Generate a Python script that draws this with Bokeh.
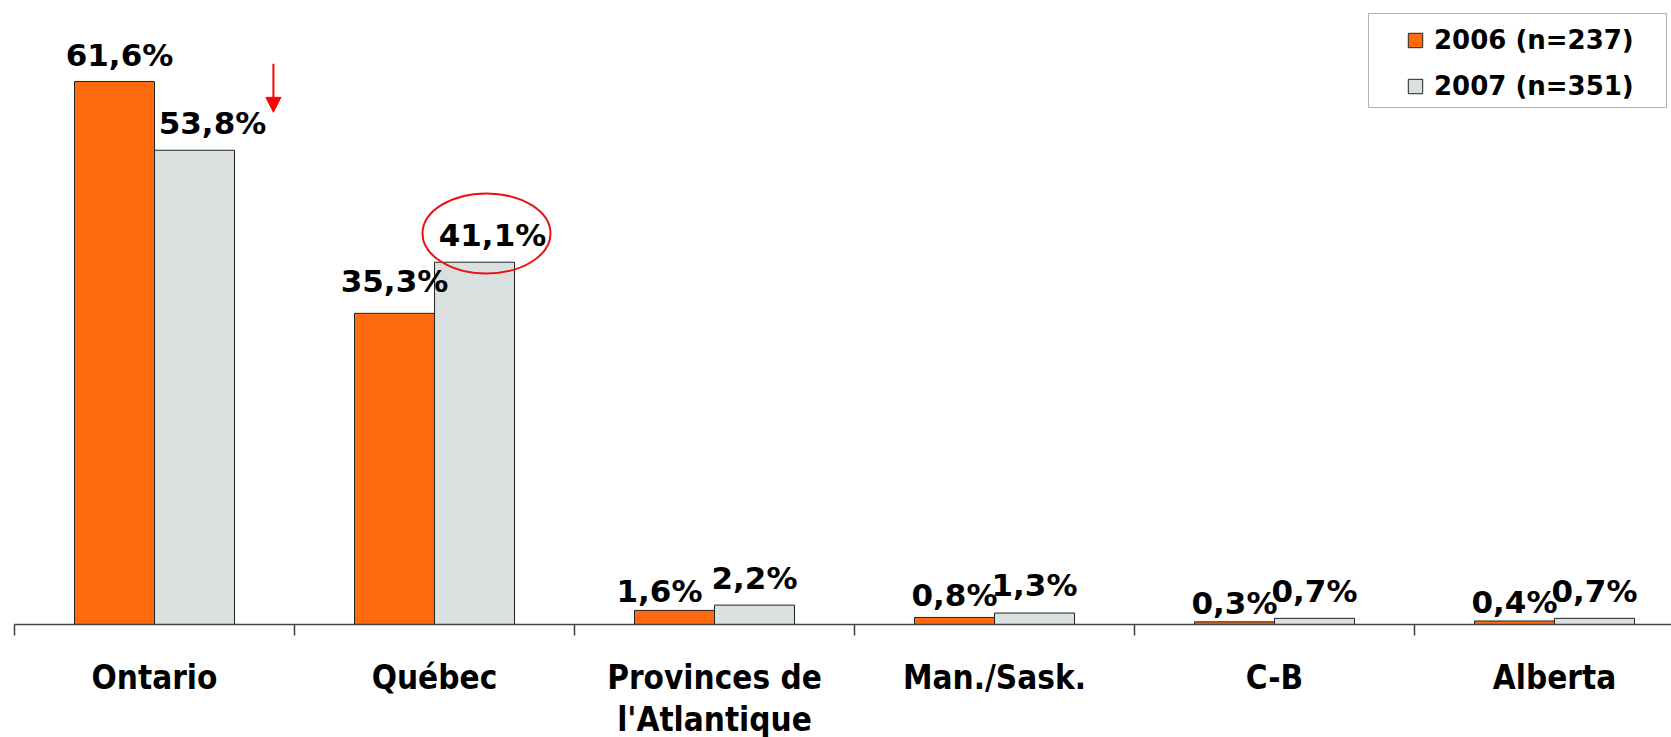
from bokeh.plotting import figure
from bokeh.models import (ColumnDataSource, Range1d, LinearAxis, FixedTicker, Legend,
                          LegendItem, BoxAnnotation, Arrow, NormalHead)
from bokeh.core.properties import value
from bokeh.embed import file_html
from bokeh.resources import INLINE

# ---------------- data ----------------
categories = ["Ontario", "Québec", "Provinces de\nl'Atlantique", "Man./Sask.", "C-B", "Alberta"]
series_names = ["2006 (n=237)", "2007 (n=351)"]
values_2006 = [61.6, 35.3, 1.6, 0.8, 0.3, 0.4]
values_2007 = [53.8, 41.1, 2.2, 1.3, 0.7, 0.7]

# ---------------- style ----------------
ORANGE = "#FF6A0F"
GREY = "#D9E0DF"
EDGE = "#222222"
AXIS = "#404040"
RED = "#EE1111"
LABEL_FONT = "DejaVu Sans"
CAT_FONT = "DejaVu Sans Condensed"

CANVAS_H = 737
FRAME_W, FRAME_H = 1657, 616
FRAME_LEFT, FRAME_TOP = 14, 8
CAT_PX = 280.0          # pixels per category
PX_PER_PCT = 8.815      # pixels per percentage point
BAR_W = 2.0 / 7.0       # each bar, in category units (gap 150%)

# per-label nudges (pixels) to mimic the original label placement
xoff_2006 = [5, 0, -15, 0, 0, 0]
yoff_2006 = [-26, -32, -19, -22, -19, -19]
xoff_2007 = [18, 18, 0, 0, 0, 0]
yoff_2007 = [-27, -27, -27, -28, -27, -27]


def fmt(v):
    return f"{v:.1f}".replace(".", ",") + "%"


n = len(categories)
idx = list(range(n))

x_range = Range1d(-0.5, -0.5 + FRAME_W / CAT_PX)
y_range = Range1d(0, FRAME_H / PX_PER_PCT)

p = figure(frame_width=FRAME_W, frame_height=FRAME_H, x_range=x_range, y_range=y_range,
           output_backend="svg", toolbar_location=None,
           x_axis_location=None, y_axis_location=None,
           min_border_left=FRAME_LEFT, min_border_right=0, min_border_top=FRAME_TOP,
           min_border_bottom=CANVAS_H - FRAME_TOP - FRAME_H,
           outline_line_color=None, background_fill_color="white", border_fill_color="white")
p.grid.visible = False

src6 = ColumnDataSource(dict(x=[i - BAR_W / 2 for i in idx], top=values_2006,
                             label=[fmt(v) for v in values_2006], xo=xoff_2006, yo=yoff_2006))
src7 = ColumnDataSource(dict(x=[i + BAR_W / 2 for i in idx], top=values_2007,
                             label=[fmt(v) for v in values_2007], xo=xoff_2007, yo=yoff_2007))

r6 = p.vbar(x="x", top="top", bottom=0, width=BAR_W, source=src6,
            fill_color=ORANGE, line_color=EDGE, line_width=1)
r7 = p.vbar(x="x", top="top", bottom=0, width=BAR_W, source=src7,
            fill_color=GREY, line_color=EDGE, line_width=1)

for src in (src6, src7):
    p.text(x="x", y="top", text="label", x_offset="xo", y_offset="yo", source=src,
           text_font=value(LABEL_FONT), text_font_style="bold", text_font_size="31px",
           text_align="center", text_baseline="alphabetic", text_color="black")

# category axis: labels on (hidden) major ticks, boundary marks as minor ticks
xaxis = LinearAxis(ticker=FixedTicker(ticks=idx, minor_ticks=[i - 0.5 for i in range(n + 1)]),
                   major_label_overrides={i: c for i, c in zip(idx, categories)},
                   axis_line_color=AXIS, axis_line_width=1.5,
                   major_tick_line_color=None, major_tick_in=0, major_tick_out=11,
                   minor_tick_line_color=AXIS, minor_tick_line_width=1.5,
                   minor_tick_in=0, minor_tick_out=11,
                   major_label_standoff=22,
                   major_label_text_font=CAT_FONT, major_label_text_font_style="bold",
                   major_label_text_font_size="33px", major_label_text_color="black",
                   major_label_text_line_height=1.08)
p.add_layout(xaxis, "below")


def dx(page_x):
    return -0.5 + (page_x - FRAME_LEFT) / CAT_PX


def dy(page_y):
    return (FRAME_TOP + FRAME_H - page_y) / PX_PER_PCT


legend = Legend(items=[LegendItem(label=series_names[0], renderers=[r6]),
                       LegendItem(label=series_names[1], renderers=[r7])],
                location=(1392, 523), padding=0, spacing=16,
                glyph_height=18, glyph_width=18, label_height=30, label_standoff=10,
                label_text_font=LABEL_FONT, label_text_font_size="26px",
                label_text_font_style="bold", label_text_color="black",
                border_line_color=None, background_fill_alpha=0)
p.add_layout(legend)

p.add_layout(BoxAnnotation(left=dx(1368), right=dx(1666), top=dy(13), bottom=dy(107),
                           fill_color=None, line_color="black", line_width=1))

# red arrow above Ontario 2007 bar
ax_x = idx[0] + BAR_W + 0.139
p.add_layout(Arrow(end=NormalHead(size=15, fill_color="red", line_color="red"),
                   x_start=ax_x, y_start=values_2007[0] + 9.8,
                   x_end=ax_x, y_end=values_2007[0] + 4.3,
                   line_color="red", line_width=2))

# red ellipse around Québec 2007 label
p.ellipse(x=idx[1] + BAR_W / 2 + 12 / CAT_PX, y=values_2007[1] + 3.26,
          width=128, height=80, width_units="screen", height_units="screen",
          fill_color=None, line_color=RED, line_width=2)

open("out.html", "w").write(file_html(p, INLINE))
